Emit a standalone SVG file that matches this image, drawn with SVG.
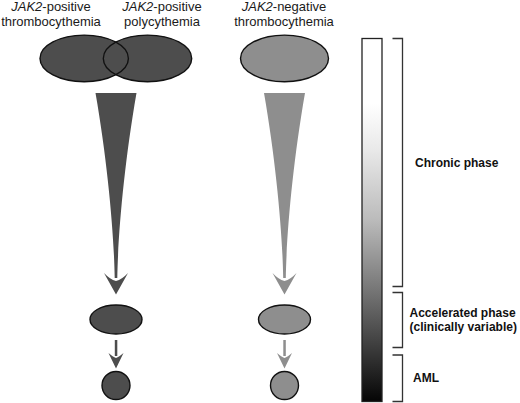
<svg xmlns="http://www.w3.org/2000/svg" width="520" height="403" viewBox="0 0 520 403">
<defs>
<style>
.lbl{font-family:"Liberation Sans",Arial,sans-serif;font-size:13px;fill:#1a1a1a;text-anchor:middle}
.phase{font-family:"Liberation Sans",Arial,sans-serif;font-size:12px;font-weight:bold;fill:#111}
.dk{fill:#4d4d4d}
.lt{fill:#8e8e8e}
.ol{fill:none;stroke:#111;stroke-width:1.4}
.node{stroke:#111;stroke-width:1.4}
.br{fill:none;stroke:#333;stroke-width:1.3}
</style>
<linearGradient id="grad" x1="0" y1="0" x2="0" y2="1">
<stop offset="0" stop-color="#ffffff"/>
<stop offset="0.18" stop-color="#ffffff"/>
<stop offset="0.31" stop-color="#e8e8e8"/>
<stop offset="0.5" stop-color="#bbbbbb"/>
<stop offset="0.69" stop-color="#777777"/>
<stop offset="0.83" stop-color="#444444"/>
<stop offset="1" stop-color="#050505"/>
</linearGradient>
</defs>
<rect width="520" height="403" fill="#fff"/>

<g id="label-jak2-pos-et">
<text class="lbl" x="51" y="11"><tspan font-style="italic">JAK2</tspan>-positive</text>
<text class="lbl" x="51" y="25.5">thrombocythemia</text>
</g>
<g id="label-jak2-pos-pv">
<text class="lbl" x="162" y="11"><tspan font-style="italic">JAK2</tspan>-positive</text>
<text class="lbl" x="162" y="25.5">polycythemia</text>
</g>
<g id="label-jak2-neg-et">
<text class="lbl" x="284" y="11"><tspan font-style="italic">JAK2</tspan>-negative</text>
<text class="lbl" x="284" y="25.5">thrombocythemia</text>
</g>

<g id="node-venn">
<ellipse class="dk" cx="84.2" cy="58.4" rx="44.2" ry="23.3"/>
<ellipse class="dk" cx="147.5" cy="58.4" rx="44.2" ry="23.3"/>
<ellipse class="ol" cx="84.2" cy="58.4" rx="44.2" ry="23.3"/>
<ellipse class="ol" cx="147.5" cy="58.4" rx="44.2" ry="23.3"/>
</g>
<g id="node-neg">
<ellipse class="lt node" cx="284.5" cy="58.4" rx="44" ry="23.3"/>
</g>

<g id="connectors">
<g class="dk">
<path d="M95.5,93 L136.5,93 C124,165 118,235 117.3,278 L114.7,278 C114,235 108,165 95.5,93 Z"/>
<path d="M104,273 Q110,279.5 116,281 Q122,279.5 128,273 L116,294.5 Z"/>
<rect x="114.8" y="340" width="2.5" height="16"/>
<path d="M108.5,353 Q113,357 116,358 Q119,357 123.5,353 L116,368.5 Z"/>
</g>
<g class="lt">
<path d="M264,93 L305,93 C292.5,165 286.5,235 285.8,278 L283.2,278 C282.5,235 276.5,165 264,93 Z"/>
<path d="M272.5,273 Q278.5,279.5 284.5,281 Q290.5,279.5 296.5,273 L284.5,294.5 Z"/>
<rect x="283.3" y="340" width="2.5" height="16"/>
<path d="M277,353 Q281.5,357 284.5,358 Q287.5,357 292,353 L284.5,368.5 Z"/>
</g>
</g>

<g id="node-accel-pos">
<ellipse class="dk node" cx="116" cy="319.5" rx="26" ry="14.5"/>
</g>
<g id="node-aml-pos">
<circle class="dk node" cx="116" cy="385.5" r="14"/>
</g>
<g id="node-accel-neg">
<ellipse class="lt node" cx="284.5" cy="319.5" rx="26" ry="14.5"/>
</g>
<g id="node-aml-neg">
<circle class="lt node" cx="284.5" cy="385.5" r="14"/>
</g>

<g id="scale-bar">
<rect x="362" y="38.5" width="20" height="363" fill="url(#grad)" stroke="#222" stroke-width="1.3"/>
</g>

<g id="phase-chronic">
<path class="br" d="M392.5,38.5 H402.5 V286.5 H392.5"/>
<text class="phase" x="415" y="166.5">Chronic phase</text>
</g>
<g id="phase-accelerated">
<path class="br" d="M392.5,292.5 H402.5 V347.5 H392.5"/>
<text class="phase" x="409.5" y="316.5">Accelerated phase</text>
<text class="phase" x="409.5" y="330.5">(clinically variable)</text>
</g>
<g id="phase-aml">
<path class="br" d="M392.5,355 H402.5 V401.5 H392.5"/>
<text class="phase" x="413" y="382">AML</text>
</g>
</svg>
